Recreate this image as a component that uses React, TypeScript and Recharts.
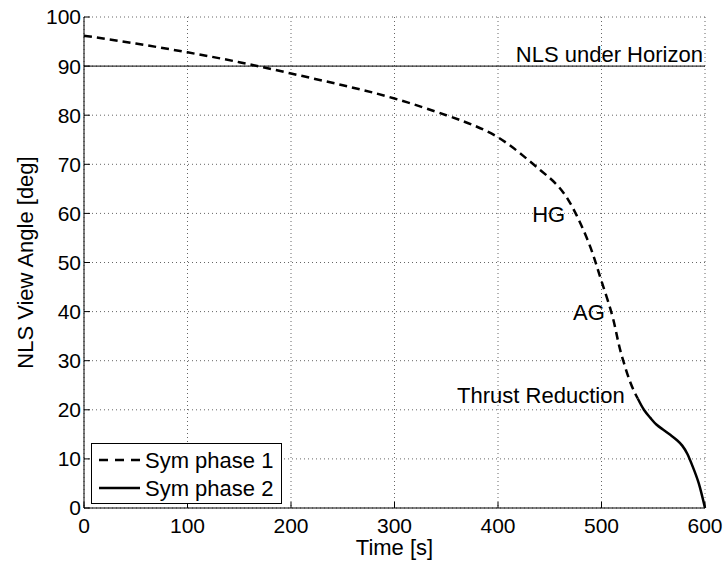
import {
  LineChart,
  Line,
  XAxis,
  YAxis,
  CartesianGrid,
  ReferenceLine,
  ReferenceDot,
  Legend,
} from "recharts";

// Sym phase 1 (dashed) and Sym phase 2 (solid)
const phase1Time = [0, 50, 100, 150, 200, 250, 300, 350, 378, 400, 421, 441, 457, 468, 476, 484, 492, 500, 510, 516, 521, 528, 535];
const phase1Angle = [96.2, 94.6, 92.8, 90.8, 88.5, 86.1, 83.4, 80.0, 77.8, 75.5, 72.3, 68.8, 65.8, 62.7, 59.6, 55.9, 51.5, 46.2, 39.5, 34.0, 30.0, 25.5, 22.3];
const phase2Time = [535, 541, 547, 553, 560, 567, 573, 578, 583, 588, 594, 600];
const phase2Angle = [22.3, 20.0, 18.4, 17.0, 15.9, 14.8, 13.8, 12.7, 11.0, 8.5, 5.0, 0];

const xTicks = [0, 100, 200, 300, 400, 500, 600];
const yTicks = [0, 10, 20, 30, 40, 50, 60, 70, 80, 90, 100];

const horizonAngle = 90;

// annotation texts: [label, time, angle, anchor]
const notes: [string, number, number, "start" | "end"][] = [
  ["NLS under Horizon", 598, 90.9, "end"],
  ["HG", 433, 58.2, "start"],
  ["AG", 472.5, 38.3, "start"],
  ["Thrust Reduction", 360.5, 21.4, "start"],
];

const data = [
  ...phase1Time.map((t, i) => ({
    t,
    p1: phase1Angle[i],
    p2: t === phase2Time[0] ? phase2Angle[0] : undefined,
  })),
  ...phase2Time.slice(1).map((t, i) => ({ t, p1: undefined, p2: phase2Angle[i + 1] })),
];

const FONT = "'Liberation Sans', Arial, Helvetica, sans-serif";
const FS = 22;
const TICK_FS = 21;

const LegendBox = () => (
  <svg width={191} height={61} style={{ display: "block" }}>
    <rect x={0.5} y={0.5} width={190} height={60} fill="#fff" stroke="#000" />
    <line x1={8} x2={49} y1={17} y2={17} stroke="#000" strokeWidth={2.5} strokeDasharray="9 7" />
    <text x={54} y={17} dy="0.355em" fontSize={FS} fontFamily={FONT} fill="#000">
      Sym phase 1
    </text>
    <line x1={8} x2={49} y1={45} y2={45} stroke="#000" strokeWidth={2.5} />
    <text x={54} y={45} dy="0.355em" fontSize={FS} fontFamily={FONT} fill="#000">
      Sym phase 2
    </text>
  </svg>
);

export default function App() {
  return (
    <div style={{ position: "absolute", left: 0, top: 0, background: "#fff" }}>
      <LineChart
        width={727}
        height={563}
        data={data}
        margin={{ top: 17, right: 22, bottom: 0, left: 0 }}
        style={{ fontFamily: FONT }}
      >
        <CartesianGrid stroke="#666" strokeDasharray="1 3" />
        <XAxis
          dataKey="t"
          type="number"
          domain={[0, 600]}
          ticks={xTicks}
          height={55}
          stroke="#000"
          tickSize={-6}
          tickMargin={16}
          tick={{ fill: "#000", fontSize: TICK_FS }}
          label={{ value: "Time [s]", position: "insideBottom", offset: 8, fill: "#000", fontSize: FS }}
        />
        <YAxis
          type="number"
          domain={[0, 100]}
          ticks={yTicks}
          width={84}
          stroke="#000"
          tickSize={-6}
          tickMargin={9}
          tick={{ fill: "#000", fontSize: TICK_FS }}
          label={{
            content: ({ viewBox }: any) => (
              <text
                x={25}
                y={viewBox.y + viewBox.height / 2}
                transform={`rotate(-90 25 ${viewBox.y + viewBox.height / 2})`}
                textAnchor="middle"
                dy="0.355em"
                fontSize={FS}
                fill="#000"
              >
                NLS View Angle [deg]
              </text>
            ),
          }}
        />
        <ReferenceLine y={horizonAngle} stroke="#000" strokeWidth={1} />
        <Line
          dataKey="p1"
          name="Sym phase 1"
          type="natural"
          stroke="#000"
          strokeWidth={2.5}
          strokeDasharray="8 5"
          dot={false}
          activeDot={false}
          isAnimationActive={false}
        />
        <Line
          dataKey="p2"
          name="Sym phase 2"
          type="natural"
          stroke="#000"
          strokeWidth={2.5}
          dot={false}
          activeDot={false}
          isAnimationActive={false}
        />
        {notes.map(([text, t, v, anchor]) => (
          <ReferenceDot
            key={text}
            x={t}
            y={v}
            r={0}
            stroke="none"
            fill="none"
            label={{
              content: ({ viewBox }: any) => (
                <text x={viewBox.x} y={viewBox.y} textAnchor={anchor} fontSize={FS} fill="#000">
                  {text}
                </text>
              ),
            }}
          />
        ))}
        <Legend
          layout="vertical"
          align="center"
          verticalAlign="middle"
          wrapperStyle={{ left: 91, top: 443, width: 191 }}
          content={() => <LegendBox />}
        />
      </LineChart>
    </div>
  );
}
